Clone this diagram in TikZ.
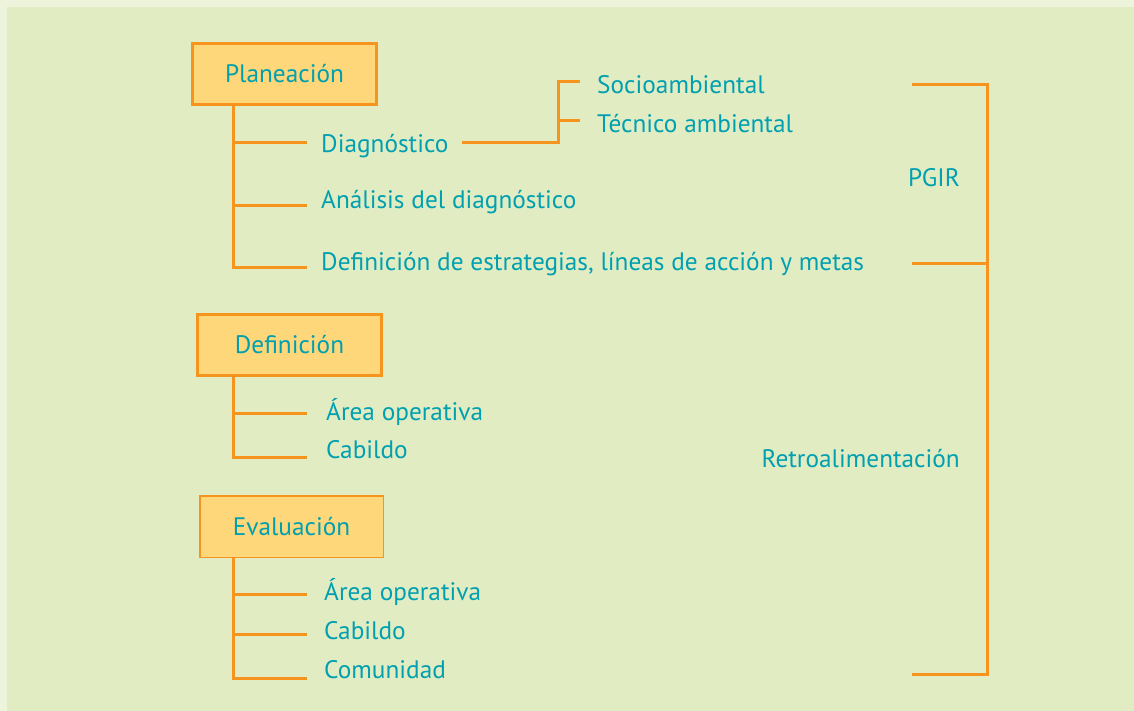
\documentclass[tikz,border=0pt]{standalone}
\usepackage{fontspec}
\setmainfont{PT Sans}
\usetikzlibrary{positioning}
\definecolor{bgouter}{RGB}{238,243,220}
\definecolor{bginner}{RGB}{226,236,195}
\definecolor{lineorange}{RGB}{247,148,29}
\definecolor{boxfill}{RGB}{253,215,122}
\definecolor{textteal}{RGB}{0,160,176}

\begin{document}
\begin{tikzpicture}[x=1pt,y=-1pt,
    stage/.style={draw=lineorange,line width=3pt,fill=boxfill,text=textteal,
      font=\fontsize{25.3}{30}\selectfont,minimum width=184pt,minimum height=61pt,inner sep=0pt},
    item/.style={text=textteal,font=\fontsize{25.3}{30}\selectfont,inner sep=0pt,anchor=base west},
    side/.style={item,anchor=base east},
    conn/.style={lineorange,line width=3pt}]
    % background
    \useasboundingbox (0,0) rectangle (1134,711);
    \fill[bgouter] (0,0) rectangle (1134,711);
    \fill[bginner] (7,7) rectangle (1134,711);

    % stages
    \node[stage] (plan) at (284.5,74) {Planeación};
    \node[stage] (defi) at (289.5,345) {Definición};
    \node[stage,line width=1.5pt,minimum width=183.5pt,minimum height=61.5pt] (eval) at (291.5,526.5) {Evaluación};

    % items
    \node[item] (diag) at (321,153) {Diagnóstico};
    \node[item] (anal) at (321,209) {Análisis del diagnóstico};
    \node[item] (estr) at (321,270) {Definición de estrategias, líneas de acción y metas};
    \node[item] (socio) at (597,94) {Socioambiental};
    \node[item] (tecn) at (597,133) {Técnico ambiental};
    \node[item] (darea) at (326,420) {Área operativa};
    \node[item] (dcab) at (326,458) {Cabildo};
    \node[item] (earea) at (324,600) {Área operativa};
    \node[item] (ecab) at (324,639) {Cabildo};
    \node[item] (ecom) at (324,678) {Comunidad};
    \node[side] (pgir) at (960,187) {PGIR};
    \node[side] (retro) at (960,467) {Retroalimentación};

    % branch ends
    \coordinate (pt) at (233,0);
    \coordinate (p1) at (307,143);
    \coordinate (p2) at (307,206);
    \coordinate (p3) at (307,267);
    \coordinate (d1) at (307,413);
    \coordinate (d2) at (307,457);
    \coordinate (e1) at (307,594);
    \coordinate (e2) at (307,634);
    \coordinate (e3) at (307,678);
    \coordinate (fork) at (558,143);
    \coordinate (s1) at (580,82);
    \coordinate (s2) at (580,121);

    % trees
    \draw[conn] (plan.south -| pt) |- (p3);
    \foreach \b in {p1,p2}
        \draw[conn] (pt |- \b) -- (\b);
    \draw[conn] (defi.south -| pt) |- (d2);
    \draw[conn] (pt |- d1) -- (d1);
    \draw[conn] (eval.south -| pt) |- (e3);
    \foreach \b in {e1,e2}
        \draw[conn] (pt |- \b) -- (\b);

    % diagnostico fork
    \draw[conn] ([xshift=13pt]diag.east |- fork) -- (fork) |- (s1);
    \draw[conn] (fork |- s2) -- (s2);

    % bracket
    \coordinate (r1) at (912,85);
    \coordinate (r2) at (912,263);
    \coordinate (r3) at (912,674);
    \draw[conn] (r1) -- ++(75,0) |- (r3);
    \draw[conn] (r2) -- ++(75,0);
\end{tikzpicture}
\end{document}
